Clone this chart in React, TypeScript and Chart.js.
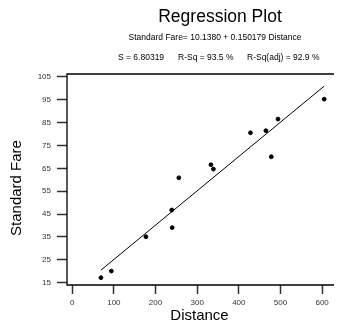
import React, { useEffect, useRef } from "react";
import { Chart, registerables } from "chart.js";

Chart.register(...registerables);

const distances = [69, 94, 177, 239, 240, 256, 333, 339, 428, 465, 478, 494, 605];
const fares = [17.2, 20.1, 35.1, 46.8, 39.1, 60.9, 66.6, 64.7, 80.6, 81.5, 70.1, 86.6, 95.3];
const intercept = 10.138;
const slope = 0.150179;
const xTicks = [0, 100, 200, 300, 400, 500, 600];
const yTicks = [15, 25, 35, 45, 55, 65, 75, 85, 95, 105];

const titleText = "Regression Plot";
const equationText = "Standard Fare= 10.1380 + 0.150179 Distance";
const statTexts = ["S = 6.80319", "R-Sq = 93.5 %", "R-Sq(adj) = 92.9 %"];
const xTitle = "Distance";
const yTitle = "Standard Fare";

const FONT = "'Liberation Sans', Arial, sans-serif";

export default function App() {
  const ref = useRef<HTMLCanvasElement | null>(null);
  useEffect(() => {
    if (!ref.current) return;
    const xMin = Math.min(...distances);
    const xMax = Math.max(...distances);
    const fitLine = [
      { x: xMin, y: intercept + slope * xMin },
      { x: xMax, y: intercept + slope * xMax },
    ];
    const textPlugin = {
      id: "texts",
      afterDraw(chart: any) {
        const ctx = chart.ctx;
        const a = chart.chartArea;
        ctx.save();
        // frame
        ctx.strokeStyle = "#000";
        ctx.lineWidth = 1.3;
        ctx.beginPath();
        ctx.moveTo(a.right + 2, a.top);
        ctx.lineTo(a.left, a.top);
        ctx.lineTo(a.left, a.bottom);
        ctx.lineTo(a.right + 2, a.bottom);
        ctx.stroke();
        ctx.fillStyle = "#000";
        ctx.textBaseline = "middle";
        ctx.textAlign = "center";
        ctx.font = `17.5px ${FONT}`;
        ctx.fillText(titleText, 220, 17);
        ctx.font = `8.5px ${FONT}`;
        ctx.fillText(equationText, 215, 38);
        ctx.textAlign = "left";
        const sx = [118, 178, 247];
        statTexts.forEach((t, i) => ctx.fillText(t, sx[i], 58));
        ctx.textAlign = "center";
        ctx.font = `15px ${FONT}`;
        ctx.fillText(xTitle, (a.left + a.right) / 2, 316);
        ctx.translate(17, 188);
        ctx.rotate(-Math.PI / 2);
        ctx.fillText(yTitle, 0, 0);
        ctx.restore();
      },
    };
    const chart = new Chart(ref.current, {
      type: "scatter",
      data: {
        datasets: [
          {
            data: distances.map((d, i) => ({ x: d, y: fares[i] })),
            backgroundColor: "#000",
            borderColor: "#000",
            pointRadius: 1.9,
            pointStyle: "circle",
            showLine: false,
          },
          {
            type: "line",
            data: fitLine,
            borderColor: "#000",
            borderWidth: 1,
            pointRadius: 0,
            showLine: true,
            fill: false,
          } as any,
        ],
      },
      options: {
        animation: false,
        responsive: false,
        maintainAspectRatio: false,
        layout: { padding: { top: 74, right: 1, left: 0, bottom: 0 } },
        plugins: { legend: { display: false }, tooltip: { enabled: false }, title: { display: false } },
        scales: {
          x: {
            type: "linear",
            min: -12.5,
            max: 623.7,
            afterBuildTicks: (s: any) => {
              s.ticks = xTicks.map((v) => ({ value: v }));
            },
            afterFit: (s: any) => {
              s.height = 42;
            },
            border: { display: false },
            grid: { drawOnChartArea: false, drawTicks: true, tickLength: 9, tickColor: "#333", tickWidth: 1.5 },
            ticks: { font: { size: 8, family: FONT }, color: "#333", padding: 4, maxRotation: 0 },
          },
          y: {
            type: "linear",
            min: 14,
            max: 106.3,
            afterBuildTicks: (s: any) => {
              s.ticks = yTicks.map((v) => ({ value: v }));
            },
            afterFit: (s: any) => {
              s.width = 67;
            },
            border: { display: false },
            grid: { drawOnChartArea: false, drawTicks: true, tickLength: 10, tickColor: "#333", tickWidth: 1.5 },
            ticks: { font: { size: 8, family: FONT }, color: "#333", padding: 6 },
          },
        },
      },
      plugins: [textPlugin],
    });
    return () => chart.destroy();
  }, []);
  return (
    <div style={{ position: "absolute", left: 0, top: 0, width: 337, height: 327 }}>
      <canvas ref={ref} width={337} height={327} style={{ width: 337, height: 327, display: "block" }} />
    </div>
  );
}
